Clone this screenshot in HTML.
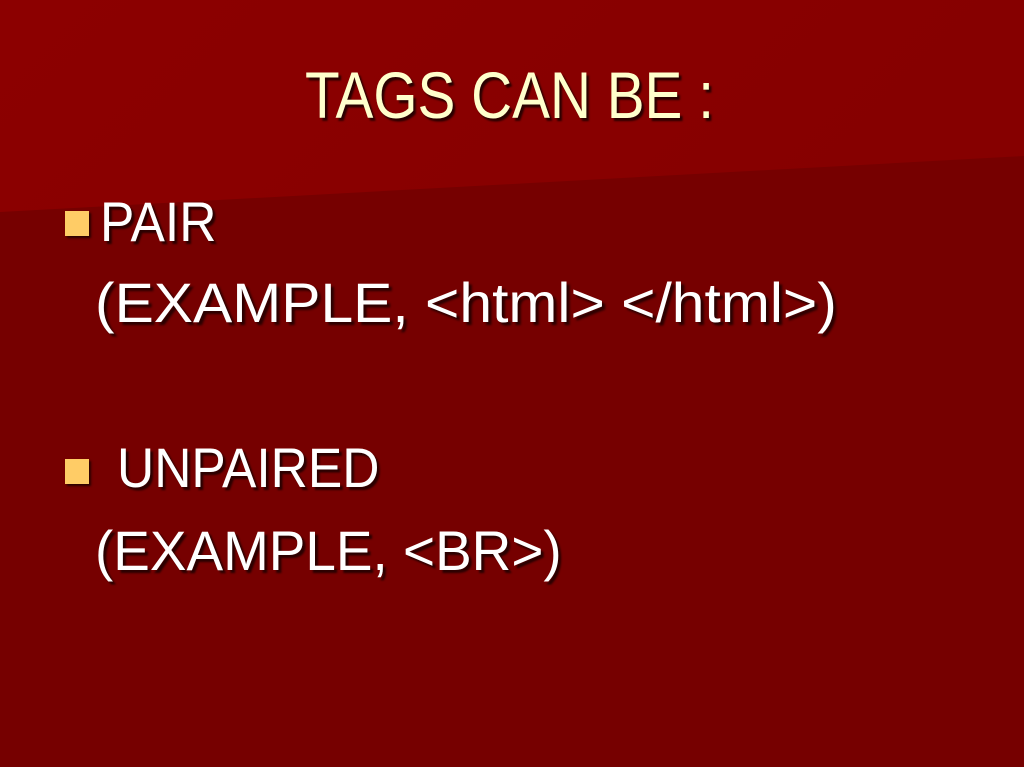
<!DOCTYPE html>
<html><head><meta charset="utf-8"><style>
html,body{margin:0;padding:0}
body{width:1024px;height:767px;position:relative;overflow:hidden;background:#760000;font-family:"Liberation Sans",Arial,sans-serif}
.top{position:absolute;left:0;top:0;width:1024px;height:767px;background:linear-gradient(135deg,#8c0000,#820000);clip-path:polygon(0 0,1024px 0,1024px 156px,0 212px)}
.t{position:absolute;white-space:nowrap;transform-origin:0 0;text-shadow:3px 3px 2px #2a0000}
.title{color:#FFFFCC;font-size:66px;left:305px;top:57px;transform:scaleX(.86)}
.b{color:#fff;font-size:56px}
.sq{position:absolute;width:24px;height:25px;background:#FFCC66;box-shadow:2px 2px 2px #2a0000}
</style></head><body>
<div class="top"></div>
<div class="t title">TAGS CAN BE :</div>
<div class="sq" style="left:65px;top:211px"></div>
<div class="t b" style="left:100px;top:189px;transform:scaleX(.92)">PAIR</div>
<div class="t b" style="left:95px;top:270px;transform:scaleX(1.05)">(EXAMPLE, &lt;html&gt; &lt;/html&gt;)</div>
<div class="sq" style="left:65px;top:459px"></div>
<div class="t b" style="left:117px;top:435px;transform:scaleX(.92)">UNPAIRED</div>
<div class="t b" style="left:95px;top:518px;transform:scaleX(.98)">(EXAMPLE, &lt;BR&gt;)</div>
</body></html>
